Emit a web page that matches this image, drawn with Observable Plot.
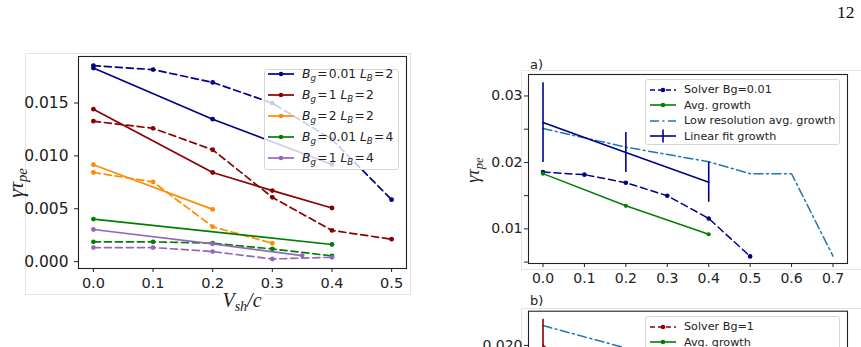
<!DOCTYPE html>
<html>
<head>
<meta charset="utf-8">
<script src="https://cdn.jsdelivr.net/npm/d3@7"></script>
<script src="https://cdn.jsdelivr.net/npm/@observablehq/plot@0.6"></script>
<style>
  body { margin: 0; background: #fff; }
  #page { position: relative; width: 861px; height: 347px; overflow: hidden; background: #fff; font-family: "DejaVu Sans", sans-serif; color: #222; }
  #page svg { position: absolute; overflow: visible; }
  .abs { position: absolute; white-space: nowrap; line-height: 1; }
  .border { position: absolute; border: 1px solid #e4e4e4; box-sizing: border-box; }
  .math { font-family: "Liberation Serif", serif; font-style: italic; }
  .math sub, .legend sub { font-size: 0.7em; vertical-align: -0.32em; line-height: 0; }
  .legend { position: absolute; box-sizing: border-box; border: 1px solid #d6d6d6; border-radius: 3px; background: rgba(255,255,255,0.8); }
  .legend .row { position: absolute; left: 0; display: flex; align-items: center; }
  .legend svg { position: static !important; }
</style>
</head>
<body>
<div id="page"></div>
<script>
// ---------- data ----------
// shear velocities V_sh/c
const vShear = [0, 0.1, 0.2, 0.3, 0.4, 0.5];
const vShearSparse = [0, 0.2, 0.4];

// averaged growth (solid) and solver growth (dashed), per (B_g, L_B) case
const avgBg001LB2 = [0.01831, 0.01347, 0.00919];
const solverBg001LB2 = [0.01854, 0.01816, 0.01695, 0.01499, 0.01157, 0.00586];

const avgBg1LB2X = [0, 0.2, 0.3, 0.4];
const avgBg1LB2 = [0.01442, 0.00843, 0.00672, 0.00507];
const solverBg1LB2 = [0.01328, 0.01261, 0.01058, 0.00608, 0.00295, 0.00212];

const avgBg2LB2X = [0, 0.2];
const avgBg2LB2 = [0.00916, 0.00494];
const solverBg2LB2X = [0, 0.1, 0.2, 0.3];
const solverBg2LB2 = [0.00843, 0.00754, 0.0033, 0.00174];

const avgBg001LB4X = [0, 0.4];
const avgBg001LB4 = [0.00402, 0.00162];
const solverLB4X = [0, 0.1, 0.2, 0.3, 0.4];
const solverBg001LB4 = [0.00187, 0.00187, 0.00174, 0.0012, 0.00054];

const avgBg1LB4X = [0, 0.2, 0.35];
const avgBg1LB4 = [0.00304, 0.00168, 0.00057];
const solverBg1LB4 = [0.00133, 0.00133, 0.00095, 0.00025, 0.00041];

// panel a) B_g = 0.01
const lowResX = [0, 0.2, 0.4, 0.5, 0.6, 0.7];
const lowResBg001 = [0.0251, 0.0223, 0.0201, 0.0183, 0.0183, 0.0059];
const fitBg001 = [0.0260, 0.0215, 0.0170];
const fitErrBg001 = [0.006, 0.003, 0.003];

// panel b) B_g = 1
const lowResBg1X = [0, 0.2];
const lowResBg1 = [0.0222, 0.0197];
const fitBg1X = [0, 0.2];
const fitBg1 = [0.0200, 0.0125];
const fitErrBg1 = [0.0029, 0.003];

// tick values
const leftXTicks = [0, 0.1, 0.2, 0.3, 0.4, 0.5];
const leftYTicks = [0, 0.005, 0.010, 0.015];
const rightXTicks = [0, 0.1, 0.2, 0.3, 0.4, 0.5, 0.6, 0.7];
const rightYTicksA = [0.005, 0.010, 0.015, 0.020, 0.025, 0.030];
const rightYTicksB = [0.020];

// legend labels
const leftLegendLabels = [
  "<i>B</i><sub><i>g</i></sub>&#8202;=&#8202;0.01 <i>L</i><sub><i>B</i></sub>&#8202;=&#8202;2",
  "<i>B</i><sub><i>g</i></sub>&#8202;=&#8202;1 <i>L</i><sub><i>B</i></sub>&#8202;=&#8202;2",
  "<i>B</i><sub><i>g</i></sub>&#8202;=&#8202;2 <i>L</i><sub><i>B</i></sub>&#8202;=&#8202;2",
  "<i>B</i><sub><i>g</i></sub>&#8202;=&#8202;0.01 <i>L</i><sub><i>B</i></sub>&#8202;=&#8202;4",
  "<i>B</i><sub><i>g</i></sub>&#8202;=&#8202;1 <i>L</i><sub><i>B</i></sub>&#8202;=&#8202;4"
];
const panelALegend = ["Solver Bg=0.01", "Avg. growth", "Low resolution avg. growth", "Linear fit growth"];
const panelBLegend = ["Solver Bg=1", "Avg. growth"];

// ---------- styling ----------
const NAVY = "#00008b", DARKRED = "#8b0000", ORANGE = "#ff8c00", GREEN = "#008000", PURPLE = "#9467bd", TABBLUE = "#1f77b4";
const DASH = "7,4", DASHDOT = "9,3.5,2,3.5";
const leftColors = [NAVY, DARKRED, ORANGE, GREEN, PURPLE];

const pts = (xs, ys) => xs.map((x, i) => ({x, y: ys[i]}));
const page = document.getElementById("page");

function series(data, color, dash, lw, r) {
  const m = [Plot.line(data, {x: "x", y: "y", stroke: color, strokeWidth: lw, strokeDasharray: dash})];
  if (r) m.push(Plot.dot(data, {x: "x", y: "y", fill: color, r}));
  return m;
}

function place(svg, left, top) {
  svg.style.left = left + "px";
  svg.style.top = top + "px";
  page.appendChild(svg);
}

function text(html, x, y, cls, style) {
  const d = document.createElement("div");
  d.className = "abs " + (cls || "");
  d.innerHTML = html;
  d.style.left = x + "px";
  d.style.top = y + "px";
  Object.assign(d.style, style || {});
  page.appendChild(d);
  return d;
}

function box(x, y, w, h, sides) {
  const d = document.createElement("div");
  d.className = "border";
  Object.assign(d.style, {left: x + "px", top: y + "px", width: w + "px", height: h + "px"});
  if (sides) for (const s of ["Top", "Right", "Bottom", "Left"]) if (!sides.includes(s)) d.style["border" + s] = "none";
  page.appendChild(d);
}

// legend sample: line with optional dot or error bar
function sample(color, dash, lw, kind) {
  const ns = "http://www.w3.org/2000/svg";
  const s = document.createElementNS(ns, "svg");
  s.setAttribute("width", 26); s.setAttribute("height", 14);
  const l = document.createElementNS(ns, "line");
  Object.entries({x1: 0, x2: 26, y1: 7, y2: 7, stroke: color, "stroke-width": lw}).forEach(([k, v]) => l.setAttribute(k, v));
  if (dash) l.setAttribute("stroke-dasharray", dash);
  s.appendChild(l);
  if (kind === "dot") {
    const c = document.createElementNS(ns, "circle");
    Object.entries({cx: 13, cy: 7, r: 2.3, fill: color}).forEach(([k, v]) => c.setAttribute(k, v));
    s.appendChild(c);
  } else if (kind === "bar") {
    const b = document.createElementNS(ns, "line");
    Object.entries({x1: 13, x2: 13, y1: 0.5, y2: 13.5, stroke: color, "stroke-width": lw}).forEach(([k, v]) => b.setAttribute(k, v));
    s.appendChild(b);
  }
  return s;
}

function legend(x, y, w, h, entries, opts) {
  const d = document.createElement("div");
  d.className = "legend";
  Object.assign(d.style, {left: x + "px", top: y + "px", width: w + "px", height: h + "px", fontSize: opts.fontSize + "px"});
  entries.forEach((e, i) => {
    const row = document.createElement("div");
    row.className = "row";
    row.style.top = (opts.first + i * opts.step - 7) + "px";
    row.style.left = opts.pad + "px";
    row.appendChild(sample(e.color, e.dash, e.lw, e.kind));
    const t = document.createElement("span");
    t.innerHTML = e.label;
    t.style.marginLeft = opts.gap + "px";
    t.style.whiteSpace = "nowrap";
    row.appendChild(t);
    d.appendChild(row);
  });
  page.appendChild(d);
}

// ---------- figure frames ----------
box(25, 53, 386, 242);
box(521, 70, 345, 200, ["Top", "Left", "Bottom"]);
box(521, 308, 345, 60, ["Top", "Left"]);

// ---------- left panel ----------
const leftMarks = [
  ...series(pts(vShearSparse, avgBg001LB2), NAVY, null, 1.7, 2.4),
  ...series(pts(vShear, solverBg001LB2), NAVY, DASH, 1.7, 2.4),
  ...series(pts(avgBg1LB2X, avgBg1LB2), DARKRED, null, 1.7, 2.4),
  ...series(pts(vShear, solverBg1LB2), DARKRED, DASH, 1.7, 2.4),
  ...series(pts(avgBg2LB2X, avgBg2LB2), ORANGE, null, 1.7, 2.4),
  ...series(pts(solverBg2LB2X, solverBg2LB2), ORANGE, DASH, 1.7, 2.4),
  ...series(pts(avgBg001LB4X, avgBg001LB4), GREEN, null, 1.7, 2.4),
  ...series(pts(solverLB4X, solverBg001LB4), GREEN, DASH, 1.7, 2.4),
  ...series(pts(avgBg1LB4X, avgBg1LB4), PURPLE, null, 1.7, 2.4),
  ...series(pts(solverLB4X, solverBg1LB4), PURPLE, DASH, 1.7, 2.4)
];
const leftPlot = Plot.plot({
  width: 430, height: 300,
  marginLeft: 78, marginRight: 24, marginTop: 56, marginBottom: 32,
  x: {domain: [-0.025, 0.525]},
  y: {domain: [-0.00065, 0.0194]},
  style: {fontFamily: "DejaVu Sans", color: "#222", background: "transparent"},
  marks: [
    Plot.axisX({ticks: leftXTicks, tickFormat: d3.format(".1f"), tickSize: 4, tickPadding: 5, fontSize: 14.5, label: null}),
    Plot.axisY({ticks: leftYTicks, tickFormat: d3.format(".3f"), tickSize: 4, tickPadding: 6, fontSize: 15.5, label: null}),
    ...leftMarks,
    Plot.frame({stroke: "#222", strokeWidth: 1.1})
  ]
});
place(leftPlot, 0, 0);

text("γτ<sub>pe</sub>", 16, 183, "math", {fontSize: "21px", transform: "translate(-50%,-50%) rotate(-90deg)"});
text("V<sub>sh</sub>/c", 242, 300, "math", {fontSize: "20px", transform: "translate(-50%,-50%)", background: "#fff", padding: "0 2px"});

legend(264, 69, 135, 101,
  leftLegendLabels.map((label, i) => ({label, color: leftColors[i], dash: null, lw: 1.7, kind: "dot"})),
  {fontSize: 12.3, first: 3.5, step: 21.1, pad: 3, gap: 8});

// ---------- panel a) ----------
const fitA = pts(vShearSparse, fitBg001).map((d, i) => ({...d, lo: d.y - fitErrBg001[i], hi: d.y + fitErrBg001[i]}));
const panelA = Plot.plot({
  width: 431, height: 300,
  marginLeft: 98, marginRight: 14, marginTop: 74, marginBottom: 37,
  x: {domain: [-0.035, 0.735]},
  y: {domain: [0.00479, 0.03323]},
  style: {fontFamily: "DejaVu Sans", color: "#222", background: "transparent"},
  marks: [
    Plot.axisX({ticks: rightXTicks, tickFormat: d3.format(".1f"), tickSize: 4, tickPadding: 5.5, fontSize: 14, label: null}),
    Plot.axisY({ticks: rightYTicksA, tickFormat: d => Math.abs(d * 100 - Math.round(d * 100)) < 1e-9 ? d.toFixed(2) : "", tickSize: 4, tickPadding: 2, fontSize: 14, label: null}),
    ...series(pts(vShear, solverBg001LB2), NAVY, DASH, 1.5, 2.3),
    ...series(pts(vShearSparse, avgBg001LB2), GREEN, null, 1.5, 2.1),
    ...series(pts(lowResX, lowResBg001), TABBLUE, DASHDOT, 1.5, 0),
    Plot.line(fitA, {x: "x", y: "y", stroke: NAVY, strokeWidth: 1.6}),
    Plot.ruleX(fitA, {x: "x", y1: "lo", y2: "hi", stroke: NAVY, strokeWidth: 1.6}),
    Plot.frame({stroke: "#222", strokeWidth: 1.1})
  ]
});
place(panelA, 430, 0);

text("a)", 530, 58, "", {fontSize: "13px"});
text("γτ<sub>pe</sub>", 473, 170, "math", {fontSize: "18px", transform: "translate(-50%,-50%) rotate(-90deg)"});

legend(645, 79, 195, 66, [
  {label: panelALegend[0], color: NAVY, dash: "5,3", lw: 1.6, kind: "dot"},
  {label: panelALegend[1], color: GREEN, dash: null, lw: 1.6, kind: "dot"},
  {label: panelALegend[2], color: TABBLUE, dash: DASHDOT, lw: 1.6, kind: null},
  {label: panelALegend[3], color: NAVY, dash: null, lw: 1.6, kind: "bar"}
], {fontSize: 11.2, first: 9.5, step: 15.6, pad: 4, gap: 8});

// ---------- panel b) (continues below the page edge) ----------
const fitB = pts(fitBg1X, fitBg1).map((d, i) => ({...d, lo: d.y - fitErrBg1[i], hi: d.y + fitErrBg1[i]}));
const panelB = Plot.plot({
  width: 431, height: 240,
  marginLeft: 98, marginRight: 14, marginTop: 20.7, marginBottom: 41.3,
  x: {domain: [-0.035, 0.735], axis: null},
  y: {domain: [0.0040, 0.0238]},
  style: {fontFamily: "DejaVu Sans", color: "#222", background: "transparent"},
  marks: [
    Plot.axisY({ticks: rightYTicksB, tickFormat: d3.format(".3f"), tickSize: 4, tickPadding: 2, fontSize: 14, label: null}),
    ...series(pts(vShear, solverBg1LB2), DARKRED, DASH, 1.5, 2.3),
    ...series(pts(avgBg1LB2X, avgBg1LB2), GREEN, null, 1.5, 2.1),
    ...series(pts(lowResBg1X, lowResBg1), TABBLUE, DASHDOT, 1.5, 0),
    Plot.line(fitB, {x: "x", y: "y", stroke: DARKRED, strokeWidth: 1.6}),
    Plot.ruleX(fitB, {x: "x", y1: "lo", y2: "hi", stroke: DARKRED, strokeWidth: 1.6}),
    Plot.frame({stroke: "#222", strokeWidth: 1.1})
  ]
});
place(panelB, 430, 290);

text("b)", 530, 294, "", {fontSize: "13px"});

legend(645, 316, 195, 66, [
  {label: panelBLegend[0], color: DARKRED, dash: "5,3", lw: 1.6, kind: "dot"},
  {label: panelBLegend[1], color: GREEN, dash: null, lw: 1.6, kind: "dot"}
], {fontSize: 11.2, first: 9.5, step: 15.6, pad: 4, gap: 8});

// page number
text("12", 837, 4, "", {fontFamily: "Liberation Serif, serif", fontSize: "17.5px", color: "#111"});
</script>
</body>
</html>
